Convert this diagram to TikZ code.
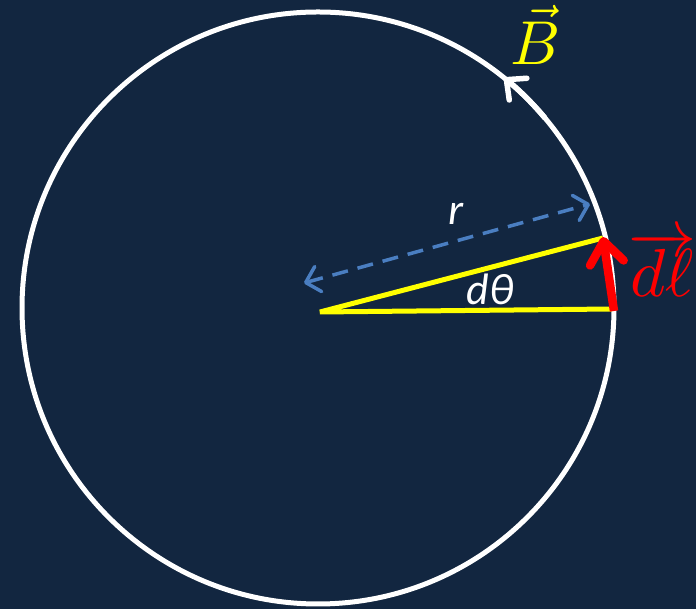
\documentclass[tikz,border=0pt]{standalone}
\usepackage{graphicx}
\usepackage{fontspec}
\newfontfamily\carl{Carlito}
\usetikzlibrary{arrows.meta}
\definecolor{bg}{RGB}{18,38,64}
\definecolor{rblue}{RGB}{74,126,193}
\definecolor{ryellow}{RGB}{255,255,0}
\definecolor{rred}{RGB}{255,0,0}
\tikzset{
  labtext/.style={inner sep=0pt, font=\carl\itshape\fontsize{44}{44}\selectfont, text=white},
}
\begin{document}
\begin{tikzpicture}[x=1pt,y=1pt]
\fill[bg] (0,0) rectangle (696,609);
\useasboundingbox (0,0) rectangle (696,609);
\coordinate (O) at (318,301);
\coordinate (Y0) at (320,297);
\coordinate (Y1) at (612,300);
\coordinate (Y2) at (603,371);
\coordinate (R0) at (614,298);
\coordinate (R1) at (603,372);
\coordinate (D0) at (304,326);
\coordinate (D1) at (590,405);
% circle
\draw[white, line width=5pt] (O) circle (296pt);
% direction chevron on the circle
\draw[white, line width=5.5pt, line cap=round, -{Straight Barb[length=15pt,width=28pt,round]}]
  (O) ++(40:296pt) arc (40:51:296pt);
% yellow angle
\draw[ryellow, line width=5pt, line join=bevel] (Y2) -- (Y0) -- (Y1);
% blue dashed radius arrow
\draw[rblue, line width=3.5pt, dash pattern=on 16pt off 10pt,
  {Straight Barb[length=13pt,width=26pt,round]}-{Straight Barb[length=13pt,width=26pt,round]}] (D0) -- (D1);
% red dl arrow
\draw[rred, line width=8.5pt, -{Straight Barb[length=22pt,width=34pt,round]}] (R0) -- (R1);
% labels
\node[labtext, anchor=base] (rl) at (456,384) {r};
\node[labtext, anchor=base] (dth) at (490,304) {dθ};
\node[inner sep=0pt, anchor=base, text=ryellow] (Bl) at (536,544) {\scalebox{6.2}{$\vec{B}$}};
\node[inner sep=0pt, anchor=base west, text=rred] (dl) at (628,312) {\scalebox{6.8}{$\overrightarrow{d\ell}$}};
\end{tikzpicture}
\end{document}
